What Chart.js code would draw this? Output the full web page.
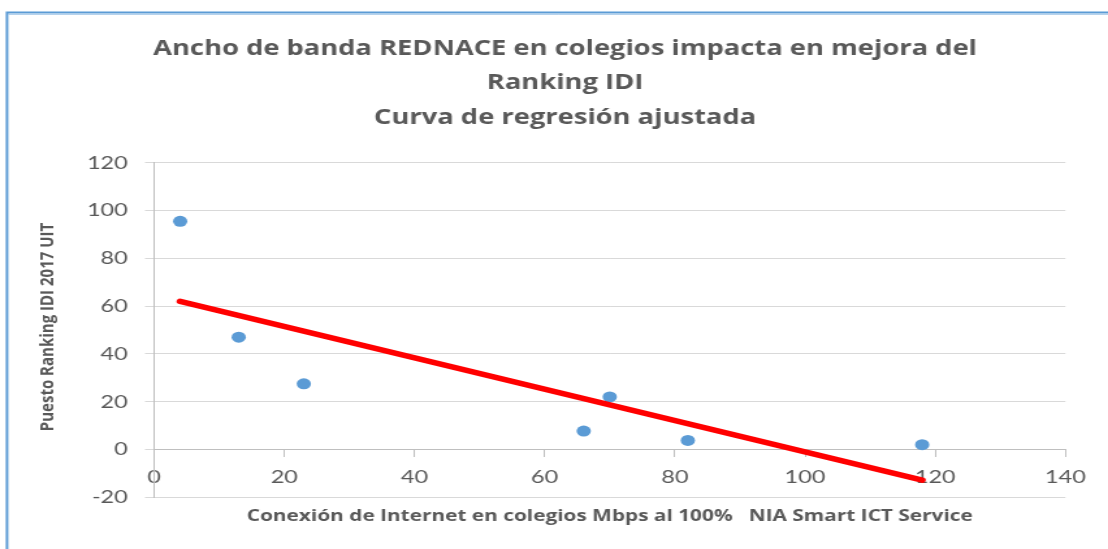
<!DOCTYPE html>
<html>
<head>
<meta charset="utf-8">
<script src="https://cdn.jsdelivr.net/npm/chart.js@4.4.1/dist/chart.umd.min.js"></script>
<style>
  html, body { margin: 0; padding: 0; background: #ffffff; overflow: hidden; }
  #wrap { width: 852px; height: 549px; transform: scaleX(1.3005); transform-origin: 0 0; }
</style>
</head>
<body>
<div id="wrap"><canvas id="c" width="852" height="549" style="width:852px;height:549px"></canvas></div>
<script>
// ---- data ----
const titleLines = ['Ancho de banda REDNACE en colegios impacta en mejora del', 'Ranking IDI', 'Curva de regresión ajustada'];
const xAxisTitle = 'Conexión de Internet en colegios Mbps al 100%   NIA Smart ICT Service';
const yAxisTitle = 'Puesto Ranking IDI 2017 UIT';
const mbps = [4, 13, 23, 66, 70, 82, 118];
const rankIDI = [95.5, 47, 27.5, 7.7, 22, 3.8, 2];
const trendX = [4, 118];
const trendY = [62, -12.8];
const xTickValues = [0, 20, 40, 60, 80, 100, 120, 140];
const yTickValues = [-20, 0, 20, 40, 60, 80, 100, 120];

const pointsData = mbps.map((x, i) => ({x: x, y: rankIDI[i]}));
const trendData = trendX.map((x, i) => ({x: x, y: trendY[i]}));

const GREY = '#595959';

const framePlugin = {
  id: 'frame',
  beforeDraw(chart) {
    const {ctx, width, height} = chart;
    ctx.save();
    ctx.fillStyle = '#ffffff';
    ctx.fillRect(0, 0, width, height);
    ctx.strokeStyle = '#5B9BD5';
    ctx.lineWidth = 2;
    ctx.beginPath();
    ctx.moveTo(5.4, height);
    ctx.lineTo(5.4, 12.5);
    ctx.lineTo(width, 12.5);
    ctx.stroke();
    ctx.strokeStyle = 'rgba(91,155,213,0.45)';
    ctx.lineWidth = 1;
    ctx.beginPath();
    ctx.moveTo(6.5, 14.5);
    ctx.lineTo(width, 14.5);
    ctx.stroke();
    ctx.restore();
  },
  afterDraw(chart) {
    const {ctx} = chart;
    ctx.save();
    ctx.translate(36.3, 327);
    ctx.rotate(-Math.PI / 2);
    ctx.textAlign = 'center';
    ctx.textBaseline = 'middle';
    ctx.fillStyle = GREY;
    ctx.font = 'bold 15px "Open Sans"';
    ctx.fillText(yAxisTitle, 0, 0);
    ctx.restore();
  }
};

new Chart(document.getElementById('c'), {
  type: 'scatter',
  data: {
    datasets: [
      {
        label: 'Tendencia',
        data: trendData,
        showLine: true,
        borderColor: '#FF0000',
        backgroundColor: '#FF0000',
        borderWidth: 5.5,
        borderCapStyle: 'round',
        pointRadius: 0,
        pointHoverRadius: 0,
        order: 0
      },
      {
        label: 'Puesto',
        data: pointsData,
        backgroundColor: '#5B9BD5',
        borderColor: '#5B9BD5',
        borderWidth: 0,
        pointRadius: 5.5,
        order: 1
      }
    ]
  },
  options: {
    responsive: false,
    animation: false,
    devicePixelRatio: 1,
    layout: { padding: { top: 0, left: 20, right: 3, bottom: 51.7 } },
    plugins: {
      legend: { display: false },
      tooltip: { enabled: false },
      title: {
        display: true,
        text: titleLines,
        color: GREY,
        font: { family: '"Open Sans"', size: 21, weight: 'bold', lineHeight: 1.64 },
        padding: { top: 31.5, bottom: 27.9 }
      }
    },
    scales: {
      x: {
        type: 'linear',
        position: { y: 0 },
        min: xTickValues[0],
        max: xTickValues[xTickValues.length - 1],
        afterBuildTicks(scale) { scale.ticks = xTickValues.map(v => ({value: v})); },
        afterFit(scale) { scale.height = 76.4; scale.paddingRight = 32.8; scale.paddingLeft = 5; },
        grid: { display: true, drawOnChartArea: false, drawTicks: true, tickLength: 7, color: '#BFBFBF' },
        border: { display: true, color: '#BFBFBF', width: 1 },
        ticks: { color: GREY, font: { family: 'Lato', size: 18 }, padding: 10, maxRotation: 0 },
        title: {
          display: true,
          text: xAxisTitle,
          color: GREY,
          font: { family: '"Open Sans"', size: 16, weight: 'bold' },
          padding: { top: 0, bottom: 0 }
        }
      },
      y: {
        type: 'linear',
        position: 'left',
        min: yTickValues[0],
        max: yTickValues[yTickValues.length - 1],
        afterBuildTicks(scale) { scale.ticks = yTickValues.map(v => ({value: v})); },
        afterFit(scale) { scale.width = 98.5; },
        grid: { color: '#D9D9D9', drawTicks: true, tickLength: 7 },
        border: { display: true, color: '#BFBFBF', width: 1 },
        ticks: { color: GREY, font: { family: 'Lato', size: 18 }, padding: 13.3 }
      }
    }
  },
  plugins: [framePlugin]
});
</script>
</body>
</html>
